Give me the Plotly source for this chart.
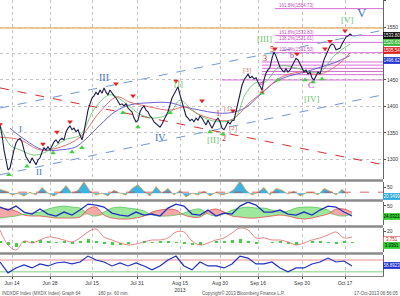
import plotly.graph_objects as go

# ---------------- data ----------------
date_ticks = [12, 50, 92, 137, 180, 220, 258, 302, 345]
date_labels = ["Jun 14", "Jun 28", "Jul 15", "Jul 31", "Aug 15<br>2013", "Aug 30", "Sep 16", "Sep 30", "Oct 17"]

price = [1365, 1346, 1318, 1295, 1280, 1284, 1303, 1318, 1331, 1337,
         1340, 1333, 1318, 1305, 1299, 1293, 1303, 1295, 1290, 1299,
         1303, 1314, 1322, 1318, 1324, 1318, 1327, 1333, 1337, 1331,
         1337, 1340, 1337, 1352, 1359, 1363, 1356, 1359, 1352, 1356,
         1346, 1337, 1352, 1374, 1393, 1405, 1416, 1420, 1427, 1422,
         1431, 1425, 1435, 1427, 1422, 1431, 1425, 1420, 1416, 1408,
         1403, 1405, 1401, 1405, 1397, 1393, 1390, 1378, 1371, 1374,
         1390, 1397, 1401, 1393, 1390, 1382, 1378, 1371, 1367, 1363,
         1361, 1367, 1374, 1382, 1390, 1403, 1416, 1423, 1431, 1437,
         1422, 1408, 1393, 1382, 1378, 1373, 1376, 1371, 1378, 1374,
         1382, 1378, 1371, 1365, 1374, 1367, 1359, 1367, 1374, 1378,
         1371, 1359, 1356, 1363, 1371, 1367, 1373, 1374, 1390, 1406,
         1427, 1440, 1450, 1456, 1461, 1454, 1457, 1452, 1454, 1446,
         1439, 1431, 1450, 1463, 1469, 1474, 1491, 1503, 1495, 1484,
         1474, 1469, 1465, 1471, 1465, 1469, 1476, 1484, 1491, 1488,
         1480, 1473, 1465, 1469, 1461, 1465, 1454, 1450, 1459, 1465,
         1461, 1476, 1488, 1497, 1507, 1514, 1518, 1516, 1507, 1508,
         1510, 1518, 1525, 1531, 1533, 1537, 1534]
price_bar = list(range(0, 2 * len(price), 2))

ma_fast_bar = [0, 10, 20, 35, 50, 65, 80, 95, 110, 125, 140, 155, 170, 180, 190, 205, 220, 235, 245, 255, 265, 280, 295, 310, 320, 335, 350]
ma_fast = [1365, 1327, 1318, 1308, 1318, 1337, 1346, 1397, 1422, 1407, 1385, 1378, 1388, 1412, 1397, 1378, 1371, 1378, 1422, 1444, 1446, 1476, 1473, 1465, 1465, 1497, 1518]
ma_mid_bar = [0, 20, 40, 60, 80, 100, 117, 130, 150, 170, 185, 200, 230, 250, 265, 280, 300, 320, 340, 350]
ma_mid = [1342, 1337, 1318, 1323, 1342, 1390, 1418, 1408, 1399, 1393, 1399, 1384, 1374, 1408, 1431, 1454, 1465, 1461, 1482, 1501]
ma_slow_bar = [10, 25, 43, 60, 75, 85, 100, 115, 130, 150, 170, 185, 200, 215, 230, 245, 260, 275, 290, 305, 320, 335, 350]
ma_slow = [1359, 1337, 1318, 1318, 1323, 1337, 1365, 1390, 1403, 1407, 1407, 1399, 1393, 1388, 1388, 1397, 1422, 1446, 1458, 1465, 1474, 1483, 1496]

chan_bar = [0, 383]
chan_upper = [1397, 1544]
chan_lower = [1271, 1422]
red_trend = [1435, 1290]
resistance = 1548

fib_levels = [1584.73, 1533.80, 1521.01, 1501.50, 1484, 1478, 1472, 1466, 1460, 1450]
fib_start = [275, 275, 275, 275, 262, 262, 262, 262, 262, 222]
fib_text = ["161.8%(1584.73)", "161.8%(1533.80)", "138.2%(1521.01)", "100.0%(1501.50)", "", "", "", "", "", ""]

top_bar = [0, 43, 57, 70, 116, 133, 176, 202, 233, 275, 297, 325, 330, 345]
top_val = [1366, 1329, 1352, 1371, 1443, 1420, 1448, 1411, 1392, 1509, 1499, 1509, 1523, 1543]
bot_bar = [9, 27, 53, 72, 82, 123, 138, 170, 210, 223, 262, 278, 305, 313, 322]
bot_val = [1271, 1287, 1312, 1314, 1322, 1388, 1361, 1388, 1352, 1348, 1425, 1450, 1450, 1446, 1452]

wave_text = ["I", "II", "III", "IV", "V", "[I]", "[II]", "[III]", "[IV]", "[V]",
             "1", "2", "[1]", "[2]", "[3]", "3", "4", "5", "a", "b", "C"]
wave_bar = [20, 39, 104, 160, 362, 178, 213, 264, 312, 347,
            218, 224, 228, 233, 247, 265, 262, 272, 262, 292, 311]
wave_val = [1358, 1276, 1454, 1342, 1577, 1443, 1337, 1528, 1414, 1563,
            1386, 1340, 1395, 1359, 1469, 1490, 1429, 1507, 1446, 1496, 1440]
wave_color = ["#3d6fc8"] * 5 + ["#6cc46c"] * 5 + ["#e02020", "#e02020", "#c87060", "#c87060", "#c87060",
                                                   "#e02020", "#e02020", "#e02020", "#c030c0", "#c030c0", "#c030c0"]
wave_size = [9, 9, 10, 10, 13, 9, 9, 9, 9, 9, 8, 8, 7, 7, 7, 8, 8, 8, 8, 8, 9]

# lower panels
p2_vals = [32, 16, -16, 0, -24, 8, -16, 48, 0, -24, 8, 64, 0, 24, 96, 16, -16, 0, -24, 24,
           0, -16, 40, 72, 16, -24, 56, 0, 40, -16, 24, -32, 0, -16, 16, -24, 8, -16, 0, 32,
           104, 24, -16, 8, 48, -16, 40, 24, -8, 16, -24, 0, 8, -16, 40, 16, -16, 32, -8]
p2_bar = list(range(0, 6 * len(p2_vals), 6))

p3_green = [18.2, 20.8, 23.4, 28.6, 31.2, 33.8, 41.6, 46.8, 49.4, 46.8, 44.2, 28.6, 23.4, 33.8, 44.2,
            46.8, 44.2, 41.6, 36.4, 26.0, 23.4, 23.4, 26.0, 31.2, 39.0, 41.6, 28.6, 23.4, 28.6, 39.0,
            44.2, 46.8, 44.2, 44.2, 39.0, 33.8, 36.4, 44.2, 46.8, 46.8, 44.2, 39.0, 26.0, 23.4, 28.6]
p3_red = [44.2, 41.6, 36.4, 26.0, 23.4, 23.4, 20.8, 18.2, 18.2, 18.2, 20.8, 41.6, 46.8, 26.0, 18.2,
          15.6, 15.6, 18.2, 23.4, 33.8, 39.0, 41.6, 39.0, 26.0, 20.8, 20.8, 36.4, 41.6, 33.8, 23.4,
          20.8, 18.2, 18.2, 20.8, 23.4, 26.0, 23.4, 18.2, 15.6, 18.2, 23.4, 28.6, 41.6, 41.6, 33.8]
p3_blue = [46.8, 39.0, 49.4, 33.8, 28.6, 41.6, 28.6, 23.4, 33.8, 26.0, 39.0, 54.6, 52.0, 46.8, 31.2,
           26.0, 23.4, 33.8, 26.0, 28.6, 23.4, 44.2, 54.6, 49.4, 28.6, 26.0, 39.0, 23.4, 31.2, 28.6,
           49.4, 59.8, 52.0, 33.8, 33.8, 39.0, 28.6, 26.0, 33.8, 26.0, 39.0, 49.4, 46.8, 33.8, 23.4]
p3_bar = list(range(0, 8 * len(p3_blue), 8))

p4_red = [21.7, -3.3, -11.7, 3.3, 0.0, 5.0, 10.0, 8.4, 5.0, 1.7, 8.4, 18.4, 23.4, 10.0, 5.0,
          0.0, -3.3, -1.7, 1.7, 5.0, 5.0, 8.4, 18.4, 18.4, 3.3, -3.3, 0.0, 5.0, 8.4, 16.7,
          25.0, 21.7, 8.4, 8.4, 5.0, 5.0, 1.7, -3.3, 0.0, 5.0, 8.4, 13.4, 18.4, 8.4, 10.0]
p4_green = [2, -3, -6, 4, 2, 5, 3, 1, 3, -2, 2, 6, 3, -1, -3, -4, -2, 0, 2, 1, 3, 4, 1, -2, -4,
            -3, 0, 3, 2, 5, 6, 2, -2, 0, 1, 3, -1, -3, 0, 2, 3, 1, -2, 2, 1]
p4_bar = list(range(0, 8 * len(p4_red), 8))

p5_blue = [63.3, 26.7, 43.3, 53.3, 43.3, 56.7, 50.0, 60.0, 63.3, 56.7, 63.3, 83.3, 70.0, 63.3, 50.0,
           60.0, 50.0, 60.0, 50.0, 36.7, 50.0, 70.0, 83.3, 50.0, 36.7, 63.3, 50.0, 50.0, 43.3, 56.7,
           83.3, 76.7, 56.7, 56.7, 63.3, 43.3, 30.0, 43.3, 43.3, 56.7, 63.3, 76.7, 63.3, 66.7, 50.0]
p5_bar = list(range(0, 8 * len(p5_blue), 8))
p5_upper = 70
p5_lower = 30

# ---------------- figure ----------------
FONT = "Liberation Sans"
fig = go.Figure()

def add(tr, k):
    ax = "" if k == 1 else str(k)
    tr.update(xaxis="x" + ax, yaxis="y" + ax, showlegend=False, hoverinfo="skip")
    fig.add_trace(tr)

# main panel
add(go.Scatter(x=chan_bar, y=[resistance, resistance], mode="lines",
               line=dict(color="#eab870", width=1.6)), 1)
for lv, st in zip(fib_levels, fib_start):
    add(go.Scatter(x=[st, 383], y=[lv, lv], mode="lines", line=dict(color="#d46fd4", width=1)), 1)
add(go.Scatter(x=chan_bar, y=chan_upper, mode="lines", line=dict(color="#7097d8", width=1, dash="dash")), 1)
add(go.Scatter(x=chan_bar, y=chan_lower, mode="lines", line=dict(color="#7097d8", width=1, dash="dash")), 1)
add(go.Scatter(x=chan_bar, y=red_trend, mode="lines", line=dict(color="#d83030", width=1, dash="dash")), 1)
add(go.Scatter(x=ma_slow_bar, y=ma_slow, mode="lines", line=dict(color="#5a4fd0", width=0.9, shape="spline")), 1)
add(go.Scatter(x=ma_mid_bar, y=ma_mid, mode="lines", line=dict(color="#e06060", width=0.9, shape="spline")), 1)
add(go.Scatter(x=ma_fast_bar, y=ma_fast, mode="lines", line=dict(color="#56c056", width=0.8, shape="spline")), 1)
add(go.Scatter(x=price_bar, y=price, mode="lines", line=dict(color="#1c1c4c", width=1.1)), 1)
add(go.Scatter(x=top_bar, y=top_val, mode="markers",
               marker=dict(symbol="triangle-down", size=5, color="#e82020")), 1)
add(go.Scatter(x=bot_bar, y=bot_val, mode="markers",
               marker=dict(symbol="triangle-up", size=5, color="#40d040")), 1)

# panel 2
add(go.Scatter(x=p2_bar, y=p2_vals, mode="lines", fill="tozeroy", fillcolor="#3ab4e4",
               line=dict(color="#f09a3a", width=0.8)), 2)
add(go.Scatter(x=chan_bar, y=[8, 8], mode="lines", line=dict(color="#d04040", width=0.8, dash="dash")), 2)

# panel 3
lo3 = [min(a, b) for a, b in zip(p3_green, p3_red)]
add(go.Scatter(x=p3_bar, y=lo3, mode="lines", line=dict(width=0, color="rgba(0,0,0,0)"), line_shape="spline"), 3)
add(go.Scatter(x=p3_bar, y=p3_green, mode="lines", fill="tonexty", fillcolor="#9ee89e",
               line=dict(width=0, color="rgba(0,0,0,0)"), line_shape="spline"), 3)
add(go.Scatter(x=p3_bar, y=lo3, mode="lines", line=dict(width=0, color="rgba(0,0,0,0)"), line_shape="spline"), 3)
add(go.Scatter(x=p3_bar, y=p3_red, mode="lines", fill="tonexty", fillcolor="#f4a8a8",
               line=dict(width=0.8, color="#e05050"), line_shape="spline"), 3)
add(go.Scatter(x=p3_bar, y=p3_green, mode="lines", line=dict(width=0.7, color="#50c050"), line_shape="spline"), 3)
add(go.Scatter(x=p3_bar, y=p3_blue, mode="lines", line=dict(width=1.3, color="#2030c0")), 3)

# panel 4
add(go.Bar(x=p4_bar, y=p4_green, marker=dict(color="#40d040", line=dict(width=0)), width=3), 4)
add(go.Scatter(x=p4_bar, y=p4_red, mode="lines", line=dict(width=0.8, color="#e06a6a"), line_shape="spline"), 4)

# panel 5
add(go.Scatter(x=chan_bar, y=[p5_upper, p5_upper], mode="lines", line=dict(width=0.8, color="#e07070")), 5)
add(go.Scatter(x=chan_bar, y=[p5_lower, p5_lower], mode="lines", line=dict(width=0.8, color="#60c060")), 5)
add(go.Scatter(x=p5_bar, y=p5_blue, mode="lines", line=dict(width=1.2, color="#2030c0")), 5)

# ---------------- layout ----------------
tickfont = dict(family=FONT, size=5, color="#333333")
domains = {1: [0.3514, 1.0], 2: [0.279, 0.3406], 3: [0.1848, 0.2681], 4: [0.087, 0.1739], 5: [0.0, 0.0761]}
ranges = {1: [1263, 1601], 2: [-50, 95], 3: [0, 60], 4: [-15, 25], 5: [16, 87]}
yticks = {1: ([1300, 1350, 1400, 1450, 1500, 1550, 1600], ["1300", "1350", "1400", "1450", "", "1550", ""]),
          2: ([50], ["50"]), 3: ([50], ["50"]), 4: ([20], ["20"]), 5: ([], [])}

layout = dict(width=400, height=296, margin=dict(l=0, r=17, t=0, b=20),
              paper_bgcolor="white", plot_bgcolor="white", bargap=0,
              font=dict(family=FONT, size=5, color="#333"))
for k in range(1, 6):
    ax = "" if k == 1 else str(k)
    layout["xaxis" + ax] = dict(domain=[0, 1], range=[0, 383], anchor="y" + ax,
                                tickvals=date_ticks, ticktext=date_labels,
                                showticklabels=(k == 5), ticks="outside" if k == 5 else "",
                                ticklen=2, tickfont=tickfont,
                                showgrid=True, gridcolor="#c4c4c4", griddash="dot", gridwidth=1,
                                zeroline=False, showline=(k == 5), linecolor="#888",
                                automargin=False, fixedrange=True)
    if k > 1:
        layout["xaxis" + ax]["matches"] = "x"
    layout["yaxis" + ax] = dict(domain=domains[k], range=ranges[k], anchor="x" + ax, side="right",
                                tickvals=yticks[k][0], ticktext=yticks[k][1], tickfont=tickfont,
                                ticks="outside", ticklen=2, tickcolor="#555",
                                showgrid=(k == 1), gridcolor="#c4c4c4", griddash="dot",
                                zeroline=False, showline=True, linecolor="#666", linewidth=1,
                                automargin=False, fixedrange=True)
fig.update_layout(**layout)

# panel separators
for py in [0.346, 0.2736, 0.1793, 0.0815]:
    fig.add_shape(type="line", xref="paper", yref="paper", x0=0, x1=1.0, y0=py, y1=py,
                  line=dict(color="#8a8a8a", width=2.5))

# fib labels
for lv, st, tx in zip(fib_levels, fib_start, fib_text):
    if tx:
        fig.add_annotation(x=st + 2, y=lv, text=tx, showarrow=False, xanchor="left", yanchor="bottom",
                           font=dict(family=FONT, size=4.5, color="#c050c0"), yshift=-1)

# wave labels
for t, b, v, c, s in zip(wave_text, wave_bar, wave_val, wave_color, wave_size):
    fig.add_annotation(x=b, y=v, text=t, showarrow=False,
                       font=dict(family="Liberation Serif", size=s, color=c))

# right value boxes
boxes = [("y", 1533.8, "1533.80", "#000000", "white", "#000000"),
         ("y", 1520.6, "1520.63", "#38b838", "white", "#38b838"),
         ("y", 1505.5, "1505.54", "#e02020", "white", "#e02020"),
         ("y", 1486.0, "1496.62", "#2030d0", "white", "#2030d0"),
         ("y2", -25, "20.3499", "#28a8e0", "white", "#28a8e0"),
         ("y3", 23.4, "24.0321", "#30d030", "black", "#30d030"),
         ("y4", 5.0, "3.751", "white", "#c02020", "#c02020"),
         ("y4", -5.0, "3.0361", "#30d030", "black", "#30d030"),
         ("y5", 50.0, "58.8923", "#2030d0", "white", "#2030d0")]
for yr, v, t, bg, fc, bc in boxes:
    fig.add_annotation(xref="paper", yref=yr, x=1.0, y=v, text=t, showarrow=False,
                       xanchor="left", yanchor="middle", bgcolor=bg, bordercolor=bc, borderwidth=0.5,
                       borderpad=0.5, width=16, height=5,
                       font=dict(family=FONT, size=4.5, color=fc))

# footer
footer = [(0.0, "left", "INDXDF Index (MXDX Index) Graph 64"),
          (0.25, "left", "180 px. 60 min."),
          (0.522, "left", "Copyright\u00a9 2013 Bloomberg Finance L.P."),
          (1.044, "right", "17-Oct-2013 06:56:05")]
for xx, anc, t in footer:
    fig.add_annotation(xref="paper", yref="paper", x=xx, y=-0.0616, text=t, showarrow=False,
                       xanchor=anc, yanchor="middle", font=dict(family=FONT, size=4.5, color="#555"))

fig.write_html("out.html")
